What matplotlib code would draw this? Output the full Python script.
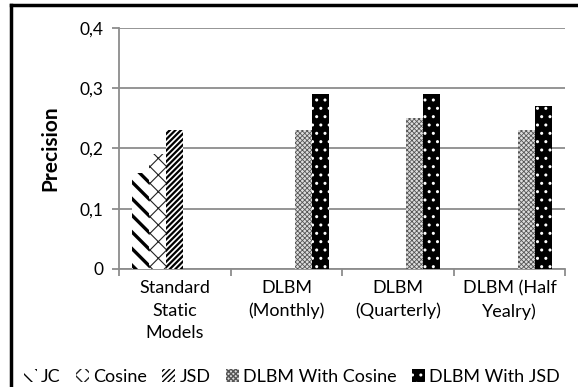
import matplotlib.pyplot as plt
import numpy as np
from matplotlib.lines import Line2D

plt.rcParams['font.family'] = ['Lato', 'DejaVu Sans']

categories = ['Standard\nStatic\nModels', 'DLBM\n(Monthly)', 'DLBM\n(Quarterly)', 'DLBM (Half\nYealry)']
series = ['JC', 'Cosine', 'JSD', 'DLBM With Cosine', 'DLBM With JSD']
jc = [0.16, 0, 0, 0]
cosine = [0.19, 0, 0, 0]
jsd = [0.23, 0, 0, 0]
dlbm_cosine = [0, 0.23, 0.25, 0.23]
dlbm_jsd = [0, 0.29, 0.29, 0.27]
yticks = [0, 0.1, 0.2, 0.3, 0.4]
ytick_labels = ['0', '0,1', '0,2', '0,3', '0,4']

fig = plt.figure(figsize=(5.78, 3.87), dpi=100)
ax = fig.add_axes([0.206, 0.305, 0.772, 0.623])

x = np.arange(len(categories))
w = 0.152
styles = [
    dict(facecolor='white', edgecolor='black', hatch='\\\\', hlw=2.4),
    dict(facecolor='white', edgecolor='#222222', hatch='xx', hlw=0.8),
    dict(facecolor='white', edgecolor='black', hatch='//////', hlw=1.6),
    dict(facecolor='#dddddd', edgecolor='#555555', hatch='xxxxxxx', hlw=0.6),
    dict(facecolor='black', edgecolor='white', hatch='..', hlw=1.0),
]
values = [jc, cosine, jsd, dlbm_cosine, dlbm_jsd]
handles = []
for i, (vals, st) in enumerate(zip(values, styles)):
    with plt.rc_context({'hatch.linewidth': st['hlw']}):
        b = ax.bar(x + (i - 2) * w, vals, w, facecolor=st['facecolor'],
                   edgecolor=st['edgecolor'], hatch=st['hatch'], linewidth=0,
                   label=series[i], zorder=3)
    handles.append(b)

ax.set_ylim(0, 0.4)
ax.set_xlim(-0.5, len(categories) - 0.5)
ax.set_yticks(yticks)
ax.set_yticklabels(ytick_labels, fontsize=12.5)
ax.yaxis.grid(True, color='#8c8c8c', linewidth=1.3, zorder=0)
ax.set_axisbelow(True)
for s in ['top', 'right']:
    ax.spines[s].set_visible(False)
ax.spines['left'].set_color('#8c8c8c')
ax.spines['bottom'].set_color('#8c8c8c')
ax.spines['left'].set_linewidth(1.3)
ax.spines['bottom'].set_linewidth(1.3)
ax.tick_params(axis='y', length=5, color='#8c8c8c', width=1.3, pad=6)

ax.set_xticks(np.arange(len(categories) + 1) - 0.5)
ax.set_xticklabels([])
ax.set_xticks(x, minor=True)
ax.set_xticklabels(categories, minor=True, fontsize=13, linespacing=1.5)
ax.tick_params(axis='x', which='major', length=5, color='#8c8c8c', width=1.3)
ax.tick_params(axis='x', which='minor', length=0, pad=8)

ax.set_ylabel('Precision', fontsize=15, fontweight='bold', labelpad=14)

fig.legend(handles=handles, labels=series, loc='center', bbox_to_anchor=(0.505, 0.027),
           ncol=5, frameon=False, fontsize=13, handlelength=0.7, handleheight=0.7,
           handletextpad=0.25, columnspacing=0.85, borderaxespad=0)

# outer frame of the pasted figure
fig.add_artist(Line2D([11 / 578, 11 / 578], [0, 1 - 5 / 387], color='black', linewidth=2.5))
fig.add_artist(Line2D([11 / 578, 1], [1 - 5 / 387, 1 - 5 / 387], color='black', linewidth=2.5))

fig.savefig('out.png', dpi=100)
